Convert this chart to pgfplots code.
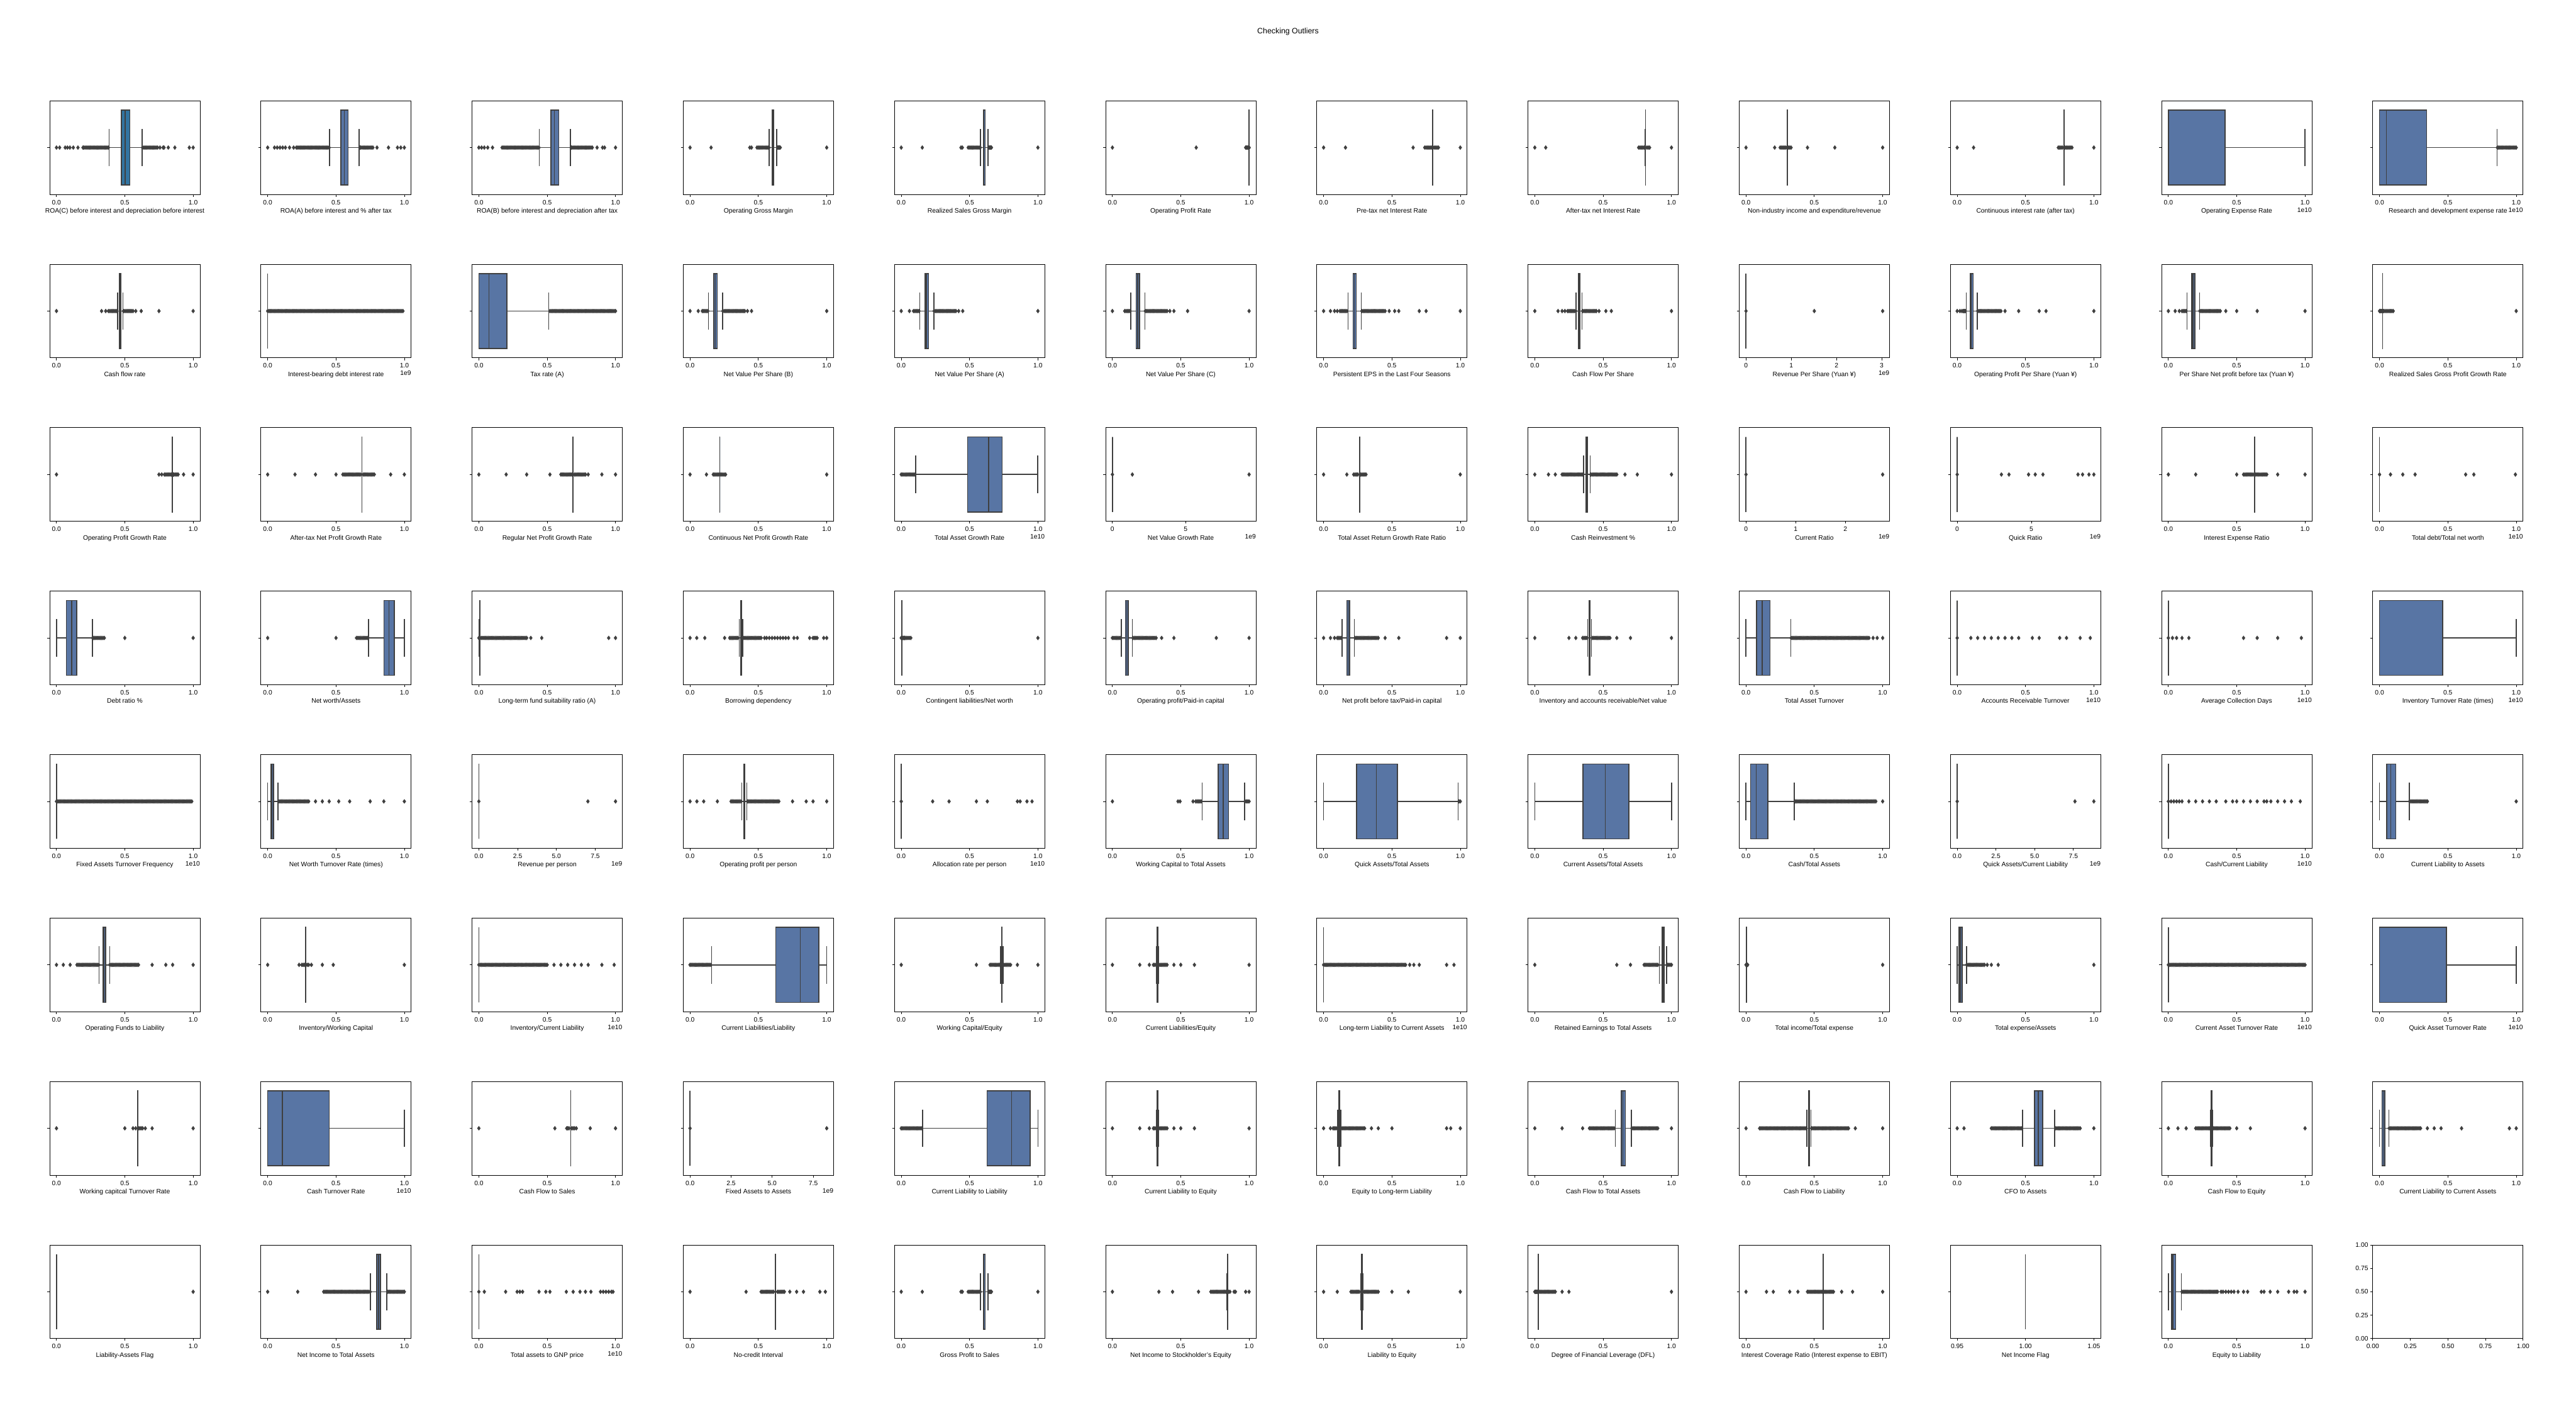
\documentclass[border=0pt]{standalone}
\usepackage{fontspec}
\setmainfont{Liberation Sans}
\usepackage{pgfplots}
\pgfplotsset{compat=1.18}
\usepgfplotslibrary{statistics}
\definecolor{bb}{HTML}{5875A4}
\definecolor{bt}{HTML}{3274A1}
\definecolor{dk}{HTML}{3F3F3F}
\pgfplotsset{
  panel/.style={
    scale only axis, width=231.1bp, height=144bp, anchor=north west,
    xmin=-0.05, xmax=1.05, ymin=-0.5, ymax=0.5,
    xtick={0,0.5,1}, xticklabels={0.0,0.5,1.0},
    ytick={0}, yticklabels={},
    scaled x ticks=false,
    tick align=outside, tick pos=left,
    major tick length=3.5pt,
    every tick/.append style={black, line width=0.8pt},
    axis line style={line width=0.8pt},
    tick label style={font=\fontsize{10}{12}\selectfont},
    xticklabel style={inner sep=0pt, yshift=-4.9pt},
    xlabel style={at={(axis description cs:0.5,0)}, anchor=north, inner sep=0pt, yshift=-21pt, font=\fontsize{10}{12}\selectfont},
    /pgf/number format/assume math mode=true,
    boxplot/draw direction=x,
    boxplot/box extend=0.8,
    boxplot/whisker extend=0.4,
    boxplot/every box/.style={draw=dk, fill=bb, line width=1.5pt},
    boxplot/every whisker/.style={draw=dk, line width=1.5pt},
    boxplot/every median/.style={draw=dk, line width=1.5pt},
  },
  off/.style={extra description/.code={\node[anchor=north east, inner sep=0pt, yshift=-20pt, font=\fontsize{10}{12}\selectfont] at (1,0) {#1};}},
  bx/.style n args={5}{boxplot prepared={draw position=0, lower whisker=#1, lower quartile=#2, median=#3, upper quartile=#4, upper whisker=#5}},
  bxst/.style={solid, draw=dk, line width=1.5pt, mark=none},
  outst/.style={only marks, mark=diamond*, mark size=3.2pt, mark options={draw=dk, fill=dk, line width=0.4pt, solid}},
}
\newcommand\bp[6]{%
\begin{axis}[panel, at={(76.32bp+#1*324.65bp,-154.8bp-#2*251.2bp)}, xlabel={#3}, #4]
\addplot[bxst, bx=#5] coordinates {};
\addplot[outst] coordinates {#6};
\end{axis}}
\begin{document}
\fontsize{10}{12}\selectfont
\begin{tikzpicture}
\path[use as bounding box] (0,0) rectangle (3960bp,-2160bp);
\node[anchor=base, font=\fontsize{12}{14}\selectfont] at (1980bp,-52.2bp) {Checking Outliers};
% ---------------- row 0
\bp{0}{0}{ROA(C) before interest and depreciation before interest}{boxplot/every box/.append style={fill=bt}}{{0.386}{0.476}{0.503}{0.536}{0.626}}{(0,0)(0.023,0)(0.064,0)(0.08,0)(0.098,0)(0.123,0)(0.157,0)(0.194,0)(0.2,0)(0.21,0)(0.22,0)(0.23,0)(0.24,0)(0.25,0)(0.26,0)(0.27,0)(0.28,0)(0.29,0)(0.3,0)(0.31,0)(0.32,0)(0.33,0)(0.34,0)(0.35,0)(0.36,0)(0.37,0)(0.38,0)(0.63,0)(0.64,0)(0.65,0)(0.66,0)(0.67,0)(0.68,0)(0.69,0)(0.7,0)(0.71,0)(0.72,0)(0.73,0)(0.74,0)(0.757,0)(0.78,0)(0.787,0)(0.818,0)(0.866,0)(0.972,0)(1,0)}
\bp{1}{0}{ROA(A) before interest and \% after tax}{}{{0.454}{0.535}{0.560}{0.589}{0.670}}{(0,0)(0.05,0)(0.07,0)(0.09,0)(0.11,0)(0.13,0)(0.16,0)(0.19,0)(0.21,0)(0.22,0)(0.23,0)(0.24,0)(0.25,0)(0.26,0)(0.27,0)(0.28,0)(0.29,0)(0.3,0)(0.31,0)(0.32,0)(0.33,0)(0.34,0)(0.35,0)(0.36,0)(0.37,0)(0.38,0)(0.39,0)(0.4,0)(0.41,0)(0.42,0)(0.43,0)(0.44,0)(0.45,0)(0.675,0)(0.68,0)(0.69,0)(0.7,0)(0.71,0)(0.72,0)(0.73,0)(0.74,0)(0.75,0)(0.76,0)(0.77,0)(0.8,0)(0.884,0)(0.95,0)(0.974,0)(1,0)}
\bp{2}{0}{ROA(B) before interest and depreciation after tax}{}{{0.442}{0.527}{0.552}{0.584}{0.670}}{(0,0)(0.02,0)(0.04,0)(0.065,0)(0.1,0)(0.17,0)(0.18,0)(0.19,0)(0.2,0)(0.21,0)(0.22,0)(0.23,0)(0.24,0)(0.25,0)(0.26,0)(0.27,0)(0.28,0)(0.29,0)(0.3,0)(0.31,0)(0.32,0)(0.33,0)(0.34,0)(0.35,0)(0.36,0)(0.37,0)(0.38,0)(0.39,0)(0.4,0)(0.41,0)(0.42,0)(0.43,0)(0.44,0)(0.675,0)(0.68,0)(0.69,0)(0.7,0)(0.71,0)(0.72,0)(0.73,0)(0.74,0)(0.75,0)(0.76,0)(0.77,0)(0.78,0)(0.79,0)(0.8,0)(0.81,0)(0.82,0)(0.83,0)(0.865,0)(0.905,0)(0.92,0)(1,0)}
\bp{3}{0}{Operating Gross Margin}{}{{0.579}{0.600}{0.606}{0.614}{0.635}}{(0,0)(0.154,0)(0.437,0)(0.45,0)(0.49,0)(0.5,0)(0.51,0)(0.52,0)(0.53,0)(0.54,0)(0.55,0)(0.56,0)(0.57,0)(0.578,0)(0.64,0)(0.645,0)(0.65,0)(0.655,0)(0.66,0)(1,0)}
\bp{4}{0}{Realized Sales Gross Margin}{}{{0.579}{0.600}{0.606}{0.614}{0.635}}{(0,0)(0.154,0)(0.437,0)(0.447,0)(0.49,0)(0.5,0)(0.51,0)(0.52,0)(0.53,0)(0.54,0)(0.55,0)(0.56,0)(0.57,0)(0.578,0)(0.64,0)(0.645,0)(0.65,0)(0.655,0)(0.66,0)(1,0)}
\bp{5}{0}{Operating Profit Rate}{}{{0.99878}{0.99897}{0.99902}{0.99910}{0.99928}}{(0,0)(0.613,0)(0.975,0)(0.98,0)(0.985,0)(0.99,0)(0.995,0)(0.998,0)(0.9995,0)(1,0)}
\bp{6}{0}{Pre-tax net Interest Rate}{}{{0.79721}{0.797386}{0.797464}{0.797579}{0.79787}}{(0,0)(0.16,0)(0.655,0)(0.74,0)(0.75,0)(0.76,0)(0.77,0)(0.78,0)(0.79,0)(0.8,0)(0.81,0)(0.82,0)(0.83,0)(0.84,0)(1,0)}
\bp{7}{0}{After-tax net Interest Rate}{}{{0.80914}{0.809312}{0.809375}{0.809469}{0.80971}}{(0,0)(0.08,0)(0.76,0)(0.77,0)(0.78,0)(0.79,0)(0.8,0)(0.82,0)(0.83,0)(0.84,0)(1,0)}
\bp{8}{0}{Non-industry income and expenditure/revenue}{}{{0.30338}{0.303466}{0.303525}{0.303585}{0.30368}}{(0,0)(0.21,0)(0.25,0)(0.26,0)(0.27,0)(0.28,0)(0.29,0)(0.3,0)(0.31,0)(0.32,0)(0.33,0)(0.45,0)(0.65,0)(1,0)}
\bp{9}{0}{Continuous interest rate (after tax)}{}{{0.78132}{0.781567}{0.781635}{0.781735}{0.78199}}{(0,0)(0.12,0)(0.74,0)(0.75,0)(0.76,0)(0.77,0)(0.79,0)(0.8,0)(0.81,0)(0.82,0)(0.83,0)(0.84,0)(1,0)}
\bp{10}{0}{Operating Expense Rate}{off=1e10}{{0}{0}{0}{0.4145}{0.999}}{}
\bp{11}{0}{Research and development expense rate}{off=1e10}{{0}{0}{0.0509}{0.345}{0.86}}{(0.862,0)(0.87,0)(0.88,0)(0.89,0)(0.9,0)(0.91,0)(0.92,0)(0.93,0)(0.94,0)(0.95,0)(0.96,0)(0.97,0)(0.98,0)(0.99,0)(1,0)}
% ---------------- row 1
\bp{0}{1}{Cash flow rate}{}{{0.447}{0.4615}{0.465}{0.4712}{0.4857}}{(0,0)(0.33,0)(0.36,0)(0.38,0)(0.39,0)(0.4,0)(0.41,0)(0.42,0)(0.43,0)(0.44,0)(0.49,0)(0.5,0)(0.51,0)(0.52,0)(0.53,0)(0.54,0)(0.55,0)(0.56,0)(0.58,0)(0.62,0)(0.75,0)(1,0)}
\bp{1}{1}{Interest-bearing debt interest rate}{off=1e9}{{0}{0}{0}{0}{0}}{(0,0)(0.01,0)(0.02,0)(0.03,0)(0.04,0)(0.05,0)(0.06,0)(0.07,0)(0.08,0)(0.09,0)(0.1,0)(0.11,0)(0.12,0)(0.13,0)(0.14,0)(0.15,0)(0.16,0)(0.17,0)(0.18,0)(0.19,0)(0.2,0)(0.21,0)(0.22,0)(0.23,0)(0.24,0)(0.25,0)(0.26,0)(0.27,0)(0.28,0)(0.29,0)(0.3,0)(0.31,0)(0.32,0)(0.33,0)(0.34,0)(0.35,0)(0.36,0)(0.37,0)(0.38,0)(0.39,0)(0.4,0)(0.41,0)(0.42,0)(0.43,0)(0.44,0)(0.45,0)(0.46,0)(0.47,0)(0.48,0)(0.49,0)(0.5,0)(0.51,0)(0.52,0)(0.53,0)(0.54,0)(0.55,0)(0.56,0)(0.57,0)(0.58,0)(0.59,0)(0.6,0)(0.61,0)(0.62,0)(0.63,0)(0.64,0)(0.65,0)(0.66,0)(0.67,0)(0.68,0)(0.69,0)(0.7,0)(0.71,0)(0.72,0)(0.73,0)(0.74,0)(0.75,0)(0.76,0)(0.77,0)(0.78,0)(0.79,0)(0.8,0)(0.81,0)(0.82,0)(0.83,0)(0.84,0)(0.85,0)(0.86,0)(0.87,0)(0.88,0)(0.89,0)(0.9,0)(0.91,0)(0.92,0)(0.93,0)(0.94,0)(0.95,0)(0.96,0)(0.97,0)(0.98,0)(0.99,0)}
\bp{2}{1}{Tax rate (A)}{}{{0}{0}{0.0734}{0.2059}{0.512}}{(0.52,0)(0.53,0)(0.54,0)(0.55,0)(0.56,0)(0.57,0)(0.58,0)(0.59,0)(0.6,0)(0.61,0)(0.62,0)(0.63,0)(0.64,0)(0.65,0)(0.66,0)(0.67,0)(0.68,0)(0.69,0)(0.7,0)(0.71,0)(0.72,0)(0.73,0)(0.74,0)(0.75,0)(0.76,0)(0.77,0)(0.78,0)(0.79,0)(0.8,0)(0.81,0)(0.82,0)(0.83,0)(0.84,0)(0.85,0)(0.86,0)(0.87,0)(0.88,0)(0.89,0)(0.9,0)(0.91,0)(0.92,0)(0.93,0)(0.94,0)(0.95,0)(0.96,0)(0.97,0)(0.98,0)(0.99,0)(1,0)}
\bp{3}{1}{Net Value Per Share (B)}{}{{0.1346}{0.1736}{0.1844}{0.1996}{0.2386}}{(0,0)(0.06,0)(0.09,0)(0.1,0)(0.11,0)(0.12,0)(0.13,0)(0.24,0)(0.25,0)(0.26,0)(0.27,0)(0.28,0)(0.29,0)(0.3,0)(0.31,0)(0.32,0)(0.33,0)(0.34,0)(0.35,0)(0.36,0)(0.37,0)(0.38,0)(0.39,0)(0.4,0)(0.42,0)(0.45,0)(1,0)}
\bp{4}{1}{Net Value Per Share (A)}{}{{0.1346}{0.1736}{0.1844}{0.1996}{0.2386}}{(0,0)(0.06,0)(0.09,0)(0.1,0)(0.11,0)(0.12,0)(0.13,0)(0.24,0)(0.25,0)(0.26,0)(0.27,0)(0.28,0)(0.29,0)(0.3,0)(0.31,0)(0.32,0)(0.33,0)(0.34,0)(0.35,0)(0.36,0)(0.37,0)(0.38,0)(0.39,0)(0.4,0)(0.42,0)(0.45,0)(1,0)}
\bp{5}{1}{Net Value Per Share (C)}{}{{0.1346}{0.1737}{0.1844}{0.1996}{0.2386}}{(0,0)(0.09,0)(0.1,0)(0.11,0)(0.12,0)(0.13,0)(0.24,0)(0.25,0)(0.26,0)(0.27,0)(0.28,0)(0.29,0)(0.3,0)(0.31,0)(0.32,0)(0.33,0)(0.34,0)(0.35,0)(0.36,0)(0.37,0)(0.38,0)(0.39,0)(0.4,0)(0.42,0)(0.45,0)(0.55,0)(1,0)}
\bp{6}{1}{Persistent EPS in the Last Four Seasons}{}{{0.1786}{0.2147}{0.2245}{0.2388}{0.2749}}{(0,0)(0.05,0)(0.08,0)(0.1,0)(0.12,0)(0.13,0)(0.14,0)(0.15,0)(0.16,0)(0.17,0)(0.28,0)(0.29,0)(0.3,0)(0.31,0)(0.32,0)(0.33,0)(0.34,0)(0.35,0)(0.36,0)(0.37,0)(0.38,0)(0.39,0)(0.4,0)(0.41,0)(0.42,0)(0.43,0)(0.44,0)(0.45,0)(0.48,0)(0.52,0)(0.55,0)(0.7,0)(0.75,0)(1,0)}
\bp{7}{1}{Cash Flow Per Share}{}{{0.3014}{0.3177}{0.3225}{0.3286}{0.3449}}{(0,0)(0.17,0)(0.2,0)(0.22,0)(0.24,0)(0.25,0)(0.26,0)(0.27,0)(0.28,0)(0.29,0)(0.3,0)(0.35,0)(0.36,0)(0.37,0)(0.38,0)(0.39,0)(0.4,0)(0.41,0)(0.42,0)(0.43,0)(0.44,0)(0.45,0)(0.47,0)(0.52,0)(0.56,0)(1,0)}
\bp{8}{1}{Revenue Per Share (Yuan ¥)}{off=1e9, xmin=-0.151, xmax=3.171, xtick={0,1,2,3}, xticklabels={0,1,2,3}}{{0}{0}{0}{0}{0}}{(0,0)(1.51,0)(3.02,0)}
\bp{9}{1}{Operating Profit Per Share (Yuan ¥)}{}{{0.066}{0.0961}{0.1042}{0.1162}{0.146}}{(0,0)(0.02,0)(0.035,0)(0.045,0)(0.05,0)(0.055,0)(0.06,0)(0.15,0)(0.16,0)(0.17,0)(0.18,0)(0.19,0)(0.2,0)(0.21,0)(0.22,0)(0.23,0)(0.24,0)(0.25,0)(0.26,0)(0.27,0)(0.28,0)(0.29,0)(0.3,0)(0.31,0)(0.32,0)(0.35,0)(0.45,0)(0.6,0)(0.65,0)(1,0)}
\bp{10}{1}{Per Share Net profit before tax (Yuan ¥)}{}{{0.1357}{0.1704}{0.1797}{0.1935}{0.2282}}{(0,0)(0.05,0)(0.08,0)(0.1,0)(0.11,0)(0.12,0)(0.13,0)(0.23,0)(0.24,0)(0.25,0)(0.26,0)(0.27,0)(0.28,0)(0.29,0)(0.3,0)(0.31,0)(0.32,0)(0.33,0)(0.34,0)(0.35,0)(0.36,0)(0.37,0)(0.38,0)(0.42,0)(0.5,0)(0.65,0)(1,0)}
\bp{11}{1}{Realized Sales Gross Profit Growth Rate}{}{{0.02199}{0.022064}{0.022102}{0.022153}{0.02223}}{(0,0)(0.005,0)(0.01,0)(0.015,0)(0.02,0)(0.025,0)(0.03,0)(0.04,0)(0.05,0)(0.06,0)(0.07,0)(0.08,0)(0.09,0)(0.1,0)(1,0)}
% ---------------- row 2
\bp{0}{2}{Operating Profit Growth Rate}{}{{0.84779}{0.84798}{0.84804}{0.84812}{0.84832}}{(0,0)(0.75,0)(0.77,0)(0.79,0)(0.8,0)(0.81,0)(0.82,0)(0.83,0)(0.84,0)(0.855,0)(0.86,0)(0.87,0)(0.88,0)(0.89,0)(0.93,0)(1,0)}
\bp{1}{2}{After-tax Net Profit Growth Rate}{}{{0.68871}{0.68927}{0.68944}{0.68965}{0.69021}}{(0,0)(0.2,0)(0.35,0)(0.5,0)(0.55,0)(0.56,0)(0.57,0)(0.58,0)(0.59,0)(0.6,0)(0.61,0)(0.62,0)(0.63,0)(0.64,0)(0.65,0)(0.66,0)(0.67,0)(0.68,0)(0.7,0)(0.71,0)(0.72,0)(0.73,0)(0.74,0)(0.75,0)(0.76,0)(0.77,0)(0.78,0)(0.9,0)(1,0)}
\bp{2}{2}{Regular Net Profit Growth Rate}{}{{0.68871}{0.68927}{0.68944}{0.68965}{0.69021}}{(0,0)(0.2,0)(0.35,0)(0.52,0)(0.6,0)(0.61,0)(0.62,0)(0.63,0)(0.64,0)(0.65,0)(0.66,0)(0.67,0)(0.68,0)(0.7,0)(0.71,0)(0.72,0)(0.73,0)(0.74,0)(0.75,0)(0.76,0)(0.77,0)(0.78,0)(0.8,0)(0.9,0)(1,0)}
\bp{3}{2}{Continuous Net Profit Growth Rate}{}{{0.21754}{0.21758}{0.21760}{0.21762}{0.21766}}{(0,0)(0.12,0)(0.17,0)(0.18,0)(0.19,0)(0.2,0)(0.21,0)(0.22,0)(0.23,0)(0.24,0)(0.25,0)(0.26,0)(1,0)}
\bp{4}{2}{Total Asset Growth Rate}{off=1e10}{{0.106}{0.486}{0.64}{0.739}{0.999}}{(0,0)(0.01,0)(0.02,0)(0.03,0)(0.04,0)(0.05,0)(0.06,0)(0.07,0)(0.08,0)(0.09,0)(0.1,0)}
\bp{5}{2}{Net Value Growth Rate}{off=1e9, xmin=-0.467, xmax=9.797, xtick={0,5}, xticklabels={0,5}}{{0}{0}{0}{0}{0}}{(0,0)(1.36,0)(9.33,0)}
\bp{6}{2}{Total Asset Return Growth Rate Ratio}{}{{0.26323}{0.263759}{0.26405}{0.264388}{0.26533}}{(0,0)(0.17,0)(0.22,0)(0.23,0)(0.24,0)(0.25,0)(0.27,0)(0.28,0)(0.29,0)(0.3,0)(0.31,0)(1,0)}
\bp{7}{2}{Cash Reinvestment \%}{}{{0.3567}{0.3747}{0.3804}{0.3867}{0.4047}}{(0,0)(0.1,0)(0.15,0)(0.2,0)(0.21,0)(0.22,0)(0.23,0)(0.24,0)(0.25,0)(0.26,0)(0.27,0)(0.28,0)(0.29,0)(0.3,0)(0.31,0)(0.32,0)(0.33,0)(0.34,0)(0.35,0)(0.41,0)(0.42,0)(0.43,0)(0.44,0)(0.45,0)(0.46,0)(0.47,0)(0.48,0)(0.49,0)(0.5,0)(0.51,0)(0.52,0)(0.53,0)(0.54,0)(0.55,0)(0.56,0)(0.57,0)(0.58,0)(0.59,0)(0.6,0)(0.66,0)(0.75,0)(1,0)}
\bp{8}{2}{Current Ratio}{off=1e9, xmin=-0.1375, xmax=2.8875, xtick={0,1,2}, xticklabels={0,1,2}}{{0}{0}{0}{0}{0}}{(0,0)(2.75,0)}
\bp{9}{2}{Quick Ratio}{off=1e9, xmin=-0.4605, xmax=9.6705, xtick={0,5}, xticklabels={0,5}}{{0}{0}{0}{0}{0}}{(0,0)(2.98,0)(3.49,0)(4.81,0)(5.26,0)(5.78,0)(8.14,0)(8.45,0)(8.88,0)(9.21,0)}
\bp{10}{2}{Interest Expense Ratio}{}{{0.62984}{0.630612}{0.630698}{0.631125}{0.63189}}{(0,0)(0.2,0)(0.5,0)(0.55,0)(0.56,0)(0.57,0)(0.58,0)(0.59,0)(0.6,0)(0.61,0)(0.62,0)(0.64,0)(0.65,0)(0.66,0)(0.67,0)(0.68,0)(0.69,0)(0.7,0)(0.71,0)(0.72,0)(0.8,0)(1,0)}
\bp{11}{2}{Total debt/Total net worth}{off=1e10}{{0}{0}{0}{0}{0}}{(0,0)(0.08,0)(0.17,0)(0.26,0)(0.63,0)(0.69,0)(0.994,0)}
% ---------------- row 3
\bp{0}{3}{Debt ratio \%}{}{{0}{0.0729}{0.1114}{0.1488}{0.2627}}{(0.265,0)(0.27,0)(0.28,0)(0.29,0)(0.3,0)(0.31,0)(0.32,0)(0.33,0)(0.34,0)(0.35,0)(0.5,0)(1,0)}
\bp{1}{3}{Net worth/Assets}{}{{0.7373}{0.8512}{0.8886}{0.9271}{1}}{(0,0)(0.5,0)(0.65,0)(0.66,0)(0.67,0)(0.68,0)(0.69,0)(0.7,0)(0.71,0)(0.72,0)(0.73,0)}
\bp{2}{3}{Long-term fund suitability ratio (A)}{}{{0.0034}{0.00524}{0.00567}{0.00647}{0.0083}}{(0,0)(0.01,0)(0.02,0)(0.03,0)(0.04,0)(0.05,0)(0.06,0)(0.07,0)(0.08,0)(0.09,0)(0.1,0)(0.11,0)(0.12,0)(0.13,0)(0.14,0)(0.15,0)(0.16,0)(0.17,0)(0.18,0)(0.19,0)(0.2,0)(0.21,0)(0.22,0)(0.23,0)(0.24,0)(0.25,0)(0.26,0)(0.27,0)(0.28,0)(0.29,0)(0.3,0)(0.31,0)(0.32,0)(0.33,0)(0.34,0)(0.35,0)(0.38,0)(0.46,0)(0.95,0)(1,0)}
\bp{3}{3}{Borrowing dependency}{}{{0.361}{0.3702}{0.3726}{0.3763}{0.3855}}{(0,0)(0.049,0)(0.108,0)(0.253,0)(0.29,0)(0.3,0)(0.31,0)(0.32,0)(0.33,0)(0.34,0)(0.35,0)(0.39,0)(0.4,0)(0.41,0)(0.42,0)(0.43,0)(0.44,0)(0.45,0)(0.46,0)(0.47,0)(0.48,0)(0.49,0)(0.5,0)(0.51,0)(0.52,0)(0.545,0)(0.56,0)(0.58,0)(0.6,0)(0.62,0)(0.64,0)(0.66,0)(0.68,0)(0.7,0)(0.72,0)(0.76,0)(0.785,0)(0.875,0)(0.9,0)(0.91,0)(0.92,0)(0.93,0)(0.978,0)(1,0)}
\bp{4}{3}{Contingent liabilities/Net worth}{}{{0.00477}{0.005366}{0.005366}{0.005764}{0.00636}}{(0,0)(0.007,0)(0.01,0)(0.015,0)(0.02,0)(0.025,0)(0.03,0)(0.04,0)(0.05,0)(0.06,0)(0.07,0)(1,0)}
\bp{5}{3}{Operating profit/Paid-in capital}{}{{0.0664}{0.0961}{0.1041}{0.1159}{0.1457}}{(0,0)(0.01,0)(0.02,0)(0.03,0)(0.04,0)(0.05,0)(0.06,0)(0.15,0)(0.16,0)(0.17,0)(0.18,0)(0.19,0)(0.2,0)(0.21,0)(0.22,0)(0.23,0)(0.24,0)(0.25,0)(0.26,0)(0.27,0)(0.28,0)(0.29,0)(0.3,0)(0.31,0)(0.32,0)(0.36,0)(0.45,0)(0.76,0)(1,0)}
\bp{6}{3}{Net profit before tax/Paid-in capital}{}{{0.136}{0.1694}{0.1785}{0.1916}{0.2249}}{(0,0)(0.05,0)(0.08,0)(0.1,0)(0.11,0)(0.12,0)(0.13,0)(0.23,0)(0.24,0)(0.25,0)(0.26,0)(0.27,0)(0.28,0)(0.29,0)(0.3,0)(0.31,0)(0.32,0)(0.33,0)(0.34,0)(0.35,0)(0.36,0)(0.37,0)(0.38,0)(0.39,0)(0.4,0)(0.45,0)(0.55,0)(0.9,0)(1,0)}
\bp{7}{3}{Inventory and accounts receivable/Net value}{}{{0.3867}{0.3974}{0.4001}{0.4046}{0.4152}}{(0,0)(0.25,0)(0.3,0)(0.35,0)(0.36,0)(0.37,0)(0.38,0)(0.42,0)(0.43,0)(0.44,0)(0.45,0)(0.46,0)(0.47,0)(0.48,0)(0.49,0)(0.5,0)(0.51,0)(0.52,0)(0.53,0)(0.54,0)(0.55,0)(0.6,0)(0.7,0)(1,0)}
\bp{8}{3}{Total Asset Turnover}{}{{0}{0.0765}{0.1184}{0.1769}{0.327}}{(0.33,0)(0.34,0)(0.35,0)(0.36,0)(0.37,0)(0.38,0)(0.39,0)(0.4,0)(0.41,0)(0.42,0)(0.43,0)(0.44,0)(0.45,0)(0.46,0)(0.47,0)(0.48,0)(0.49,0)(0.5,0)(0.51,0)(0.52,0)(0.53,0)(0.54,0)(0.55,0)(0.56,0)(0.57,0)(0.58,0)(0.59,0)(0.6,0)(0.61,0)(0.62,0)(0.63,0)(0.64,0)(0.65,0)(0.66,0)(0.67,0)(0.68,0)(0.69,0)(0.7,0)(0.71,0)(0.72,0)(0.73,0)(0.74,0)(0.75,0)(0.76,0)(0.77,0)(0.78,0)(0.79,0)(0.8,0)(0.81,0)(0.82,0)(0.83,0)(0.84,0)(0.85,0)(0.86,0)(0.87,0)(0.88,0)(0.89,0)(0.9,0)(0.93,0)(0.96,0)(1,0)}
\bp{9}{3}{Accounts Receivable Turnover}{off=1e10}{{0}{0}{0}{0}{0}}{(0,0)(0.1,0)(0.15,0)(0.2,0)(0.25,0)(0.3,0)(0.35,0)(0.4,0)(0.45,0)(0.55,0)(0.6,0)(0.75,0)(0.8,0)(0.9,0)(0.974,0)}
\bp{10}{3}{Average Collection Days}{off=1e10}{{0}{0}{0}{0}{0}}{(0,0)(0.03,0)(0.06,0)(0.1,0)(0.15,0)(0.55,0)(0.65,0)(0.8,0)(0.973,0)}
\bp{11}{3}{Inventory Turnover Rate (times)}{off=1e10}{{0}{0}{0}{0.462}{0.999}}{}
% ---------------- row 4
\bp{0}{4}{Fixed Assets Turnover Frequency}{off=1e10}{{0}{0}{0}{0}{0}}{(0,0)(0.01,0)(0.02,0)(0.03,0)(0.04,0)(0.05,0)(0.06,0)(0.07,0)(0.08,0)(0.09,0)(0.1,0)(0.11,0)(0.12,0)(0.13,0)(0.14,0)(0.15,0)(0.16,0)(0.17,0)(0.18,0)(0.19,0)(0.2,0)(0.21,0)(0.22,0)(0.23,0)(0.24,0)(0.25,0)(0.26,0)(0.27,0)(0.28,0)(0.29,0)(0.3,0)(0.31,0)(0.32,0)(0.33,0)(0.34,0)(0.35,0)(0.36,0)(0.37,0)(0.38,0)(0.39,0)(0.4,0)(0.41,0)(0.42,0)(0.43,0)(0.44,0)(0.45,0)(0.46,0)(0.47,0)(0.48,0)(0.49,0)(0.5,0)(0.51,0)(0.52,0)(0.53,0)(0.54,0)(0.55,0)(0.56,0)(0.57,0)(0.58,0)(0.59,0)(0.6,0)(0.61,0)(0.62,0)(0.63,0)(0.64,0)(0.65,0)(0.66,0)(0.67,0)(0.68,0)(0.69,0)(0.7,0)(0.71,0)(0.72,0)(0.73,0)(0.74,0)(0.75,0)(0.76,0)(0.77,0)(0.78,0)(0.79,0)(0.8,0)(0.81,0)(0.82,0)(0.83,0)(0.84,0)(0.85,0)(0.86,0)(0.87,0)(0.88,0)(0.89,0)(0.9,0)(0.91,0)(0.92,0)(0.93,0)(0.94,0)(0.95,0)(0.96,0)(0.97,0)(0.98,0)(0.99,0)}
\bp{1}{4}{Net Worth Turnover Rate (times)}{}{{0}{0.0218}{0.0295}{0.0429}{0.0746}}{(0.08,0)(0.09,0)(0.1,0)(0.11,0)(0.12,0)(0.13,0)(0.14,0)(0.15,0)(0.16,0)(0.17,0)(0.18,0)(0.19,0)(0.2,0)(0.21,0)(0.22,0)(0.23,0)(0.24,0)(0.25,0)(0.26,0)(0.27,0)(0.28,0)(0.29,0)(0.3,0)(0.35,0)(0.4,0)(0.45,0)(0.52,0)(0.6,0)(0.75,0)(0.85,0)(1,0)}
\bp{2}{4}{Revenue per person}{off=1e9, xmin=-0.4405, xmax=9.2505, xtick={0,2.5,5,7.5}, xticklabels={0.0,2.5,5.0,7.5}}{{0}{0}{0}{0}{0}}{(0,0)(7.03,0)(8.81,0)}
\bp{3}{4}{Operating profit per person}{}{{0.3783}{0.3924}{0.3959}{0.4019}{0.416}}{(0,0)(0.05,0)(0.1,0)(0.2,0)(0.3,0)(0.31,0)(0.32,0)(0.33,0)(0.34,0)(0.35,0)(0.36,0)(0.37,0)(0.42,0)(0.43,0)(0.44,0)(0.45,0)(0.46,0)(0.47,0)(0.48,0)(0.49,0)(0.5,0)(0.51,0)(0.52,0)(0.53,0)(0.54,0)(0.55,0)(0.56,0)(0.57,0)(0.58,0)(0.59,0)(0.6,0)(0.61,0)(0.62,0)(0.63,0)(0.64,0)(0.65,0)(0.75,0)(0.85,0)(0.9,0)(1,0)}
\bp{4}{4}{Allocation rate per person}{off=1e10}{{0}{0}{0}{0}{0}}{(0,0)(0.23,0)(0.35,0)(0.55,0)(0.63,0)(0.85,0)(0.87,0)(0.92,0)(0.957,0)}
\bp{5}{4}{Working Capital to Total Assets}{}{{0.657}{0.7743}{0.8103}{0.8504}{0.966}}{(0,0)(0.48,0)(0.495,0)(0.59,0)(0.61,0)(0.62,0)(0.63,0)(0.64,0)(0.65,0)(0.97,0)(0.98,0)(0.99,0)(1,0)}
\bp{6}{4}{Quick Assets/Total Assets}{}{{0}{0.242}{0.3865}{0.5406}{0.985}}{(0.99,0)(1,0)}
\bp{7}{4}{Current Assets/Total Assets}{}{{0}{0.3528}{0.5148}{0.6891}{1}}{}
\bp{8}{4}{Cash/Total Assets}{}{{0}{0.0335}{0.0749}{0.1611}{0.3525}}{(0.36,0)(0.37,0)(0.38,0)(0.39,0)(0.4,0)(0.41,0)(0.42,0)(0.43,0)(0.44,0)(0.45,0)(0.46,0)(0.47,0)(0.48,0)(0.49,0)(0.5,0)(0.51,0)(0.52,0)(0.53,0)(0.54,0)(0.55,0)(0.56,0)(0.57,0)(0.58,0)(0.59,0)(0.6,0)(0.61,0)(0.62,0)(0.63,0)(0.64,0)(0.65,0)(0.66,0)(0.67,0)(0.68,0)(0.69,0)(0.7,0)(0.71,0)(0.72,0)(0.73,0)(0.74,0)(0.75,0)(0.76,0)(0.77,0)(0.78,0)(0.79,0)(0.8,0)(0.81,0)(0.82,0)(0.83,0)(0.84,0)(0.85,0)(0.86,0)(0.87,0)(0.88,0)(0.89,0)(0.9,0)(0.91,0)(0.92,0)(0.93,0)(0.94,0)(0.95,0)(1,0)}
\bp{9}{4}{Quick Assets/Current Liability}{off=1e9, xmin=-0.441, xmax=9.261, xtick={0,2.5,5,7.5}, xticklabels={0.0,2.5,5.0,7.5}}{{0}{0}{0}{0}{0}}{(0,0)(7.6,0)(8.82,0)}
\bp{10}{4}{Cash/Current Liability}{off=1e10}{{0}{0}{0}{0}{0}}{(0,0)(0.02,0)(0.04,0)(0.06,0)(0.08,0)(0.1,0)(0.15,0)(0.2,0)(0.25,0)(0.3,0)(0.35,0)(0.42,0)(0.47,0)(0.5,0)(0.55,0)(0.6,0)(0.65,0)(0.7,0)(0.72,0)(0.75,0)(0.8,0)(0.85,0)(0.9,0)(0.965,0)}
\bp{11}{4}{Current Liability to Assets}{}{{0}{0.0533}{0.0827}{0.1195}{0.2188}}{(0.22,0)(0.23,0)(0.24,0)(0.25,0)(0.26,0)(0.27,0)(0.28,0)(0.29,0)(0.3,0)(0.31,0)(0.32,0)(0.33,0)(0.34,0)(0.35,0)(1,0)}
% ---------------- row 5
\bp{0}{5}{Operating Funds to Liability}{}{{0.3112}{0.341}{0.3486}{0.3609}{0.3907}}{(0,0)(0.05,0)(0.1,0)(0.15,0)(0.16,0)(0.17,0)(0.18,0)(0.19,0)(0.2,0)(0.21,0)(0.22,0)(0.23,0)(0.24,0)(0.25,0)(0.26,0)(0.27,0)(0.28,0)(0.29,0)(0.3,0)(0.31,0)(0.39,0)(0.4,0)(0.41,0)(0.42,0)(0.43,0)(0.44,0)(0.45,0)(0.46,0)(0.47,0)(0.48,0)(0.49,0)(0.5,0)(0.51,0)(0.52,0)(0.53,0)(0.54,0)(0.55,0)(0.56,0)(0.57,0)(0.58,0)(0.59,0)(0.6,0)(0.7,0)(0.8,0)(0.85,0)(1,0)}
\bp{1}{5}{Inventory/Working Capital}{}{{0.27665}{0.27703}{0.27718}{0.27743}{0.27781}}{(0,0)(0.23,0)(0.25,0)(0.26,0)(0.27,0)(0.28,0)(0.29,0)(0.3,0)(0.32,0)(0.4,0)(0.48,0)(1,0)}
\bp{2}{5}{Inventory/Current Liability}{off=1e10}{{0}{0}{0}{0}{0}}{(0,0)(0.01,0)(0.02,0)(0.03,0)(0.04,0)(0.05,0)(0.06,0)(0.07,0)(0.08,0)(0.09,0)(0.1,0)(0.11,0)(0.12,0)(0.13,0)(0.14,0)(0.15,0)(0.16,0)(0.17,0)(0.18,0)(0.19,0)(0.2,0)(0.21,0)(0.22,0)(0.23,0)(0.24,0)(0.25,0)(0.26,0)(0.27,0)(0.28,0)(0.29,0)(0.3,0)(0.31,0)(0.32,0)(0.33,0)(0.34,0)(0.35,0)(0.36,0)(0.37,0)(0.38,0)(0.39,0)(0.4,0)(0.41,0)(0.42,0)(0.43,0)(0.44,0)(0.45,0)(0.46,0)(0.47,0)(0.48,0)(0.49,0)(0.5,0)(0.55,0)(0.6,0)(0.65,0)(0.7,0)(0.75,0)(0.8,0)(0.9,0)(0.99,0)}
\bp{3}{5}{Current Liabilities/Liability}{}{{0.157}{0.628}{0.8069}{0.942}{1}}{(0,0)(0.01,0)(0.02,0)(0.03,0)(0.04,0)(0.05,0)(0.06,0)(0.07,0)(0.08,0)(0.09,0)(0.1,0)(0.11,0)(0.12,0)(0.13,0)(0.14,0)(0.15,0)}
\bp{4}{5}{Working Capital/Equity}{}{{0.726}{0.7336}{0.736}{0.7386}{0.746}}{(0,0)(0.55,0)(0.65,0)(0.66,0)(0.67,0)(0.68,0)(0.69,0)(0.7,0)(0.71,0)(0.72,0)(0.75,0)(0.76,0)(0.77,0)(0.78,0)(0.79,0)(0.8,0)(0.85,0)(1,0)}
\bp{5}{5}{Current Liabilities/Equity}{}{{0.3218}{0.3281}{0.3297}{0.3323}{0.3386}}{(0,0)(0.2,0)(0.27,0)(0.3,0)(0.31,0)(0.32,0)(0.34,0)(0.35,0)(0.36,0)(0.37,0)(0.38,0)(0.39,0)(0.4,0)(0.45,0)(0.5,0)(0.6,0)(1,0)}
\bp{6}{5}{Long-term Liability to Current Assets}{off=1e10}{{0}{0}{0}{0}{0}}{(0,0)(0.01,0)(0.02,0)(0.03,0)(0.04,0)(0.05,0)(0.06,0)(0.07,0)(0.08,0)(0.09,0)(0.1,0)(0.11,0)(0.12,0)(0.13,0)(0.14,0)(0.15,0)(0.16,0)(0.17,0)(0.18,0)(0.19,0)(0.2,0)(0.21,0)(0.22,0)(0.23,0)(0.24,0)(0.25,0)(0.26,0)(0.27,0)(0.28,0)(0.29,0)(0.3,0)(0.31,0)(0.32,0)(0.33,0)(0.34,0)(0.35,0)(0.36,0)(0.37,0)(0.38,0)(0.39,0)(0.4,0)(0.41,0)(0.42,0)(0.43,0)(0.44,0)(0.45,0)(0.46,0)(0.47,0)(0.48,0)(0.49,0)(0.5,0)(0.51,0)(0.52,0)(0.53,0)(0.54,0)(0.55,0)(0.56,0)(0.57,0)(0.58,0)(0.59,0)(0.6,0)(0.63,0)(0.66,0)(0.7,0)(0.9,0)(0.954,0)}
\bp{7}{5}{Retained Earnings to Total Assets}{}{{0.9105}{0.9311}{0.9377}{0.9448}{0.9654}}{(0,0)(0.6,0)(0.7,0)(0.8,0)(0.81,0)(0.82,0)(0.83,0)(0.84,0)(0.85,0)(0.86,0)(0.87,0)(0.88,0)(0.89,0)(0.9,0)(0.97,0)(0.98,0)(0.99,0)(1,0)}
\bp{8}{5}{Total income/Total expense}{}{{0.002}{0.00224}{0.00234}{0.00249}{0.0029}}{(0,0)(0.003,0)(0.004,0)(0.005,0)(0.006,0)(0.008,0)(0.01,0)(0.012,0)(1,0)}
\bp{9}{5}{Total expense/Assets}{}{{0}{0.0146}{0.0227}{0.0359}{0.0679}}{(0.07,0)(0.08,0)(0.09,0)(0.1,0)(0.11,0)(0.12,0)(0.13,0)(0.14,0)(0.15,0)(0.16,0)(0.17,0)(0.18,0)(0.19,0)(0.2,0)(0.22,0)(0.25,0)(0.3,0)(1,0)}
\bp{10}{5}{Current Asset Turnover Rate}{off=1e10}{{0}{0}{0}{0}{0}}{(0,0)(0.01,0)(0.02,0)(0.03,0)(0.04,0)(0.05,0)(0.06,0)(0.07,0)(0.08,0)(0.09,0)(0.1,0)(0.11,0)(0.12,0)(0.13,0)(0.14,0)(0.15,0)(0.16,0)(0.17,0)(0.18,0)(0.19,0)(0.2,0)(0.21,0)(0.22,0)(0.23,0)(0.24,0)(0.25,0)(0.26,0)(0.27,0)(0.28,0)(0.29,0)(0.3,0)(0.31,0)(0.32,0)(0.33,0)(0.34,0)(0.35,0)(0.36,0)(0.37,0)(0.38,0)(0.39,0)(0.4,0)(0.41,0)(0.42,0)(0.43,0)(0.44,0)(0.45,0)(0.46,0)(0.47,0)(0.48,0)(0.49,0)(0.5,0)(0.51,0)(0.52,0)(0.53,0)(0.54,0)(0.55,0)(0.56,0)(0.57,0)(0.58,0)(0.59,0)(0.6,0)(0.61,0)(0.62,0)(0.63,0)(0.64,0)(0.65,0)(0.66,0)(0.67,0)(0.68,0)(0.69,0)(0.7,0)(0.71,0)(0.72,0)(0.73,0)(0.74,0)(0.75,0)(0.76,0)(0.77,0)(0.78,0)(0.79,0)(0.8,0)(0.81,0)(0.82,0)(0.83,0)(0.84,0)(0.85,0)(0.86,0)(0.87,0)(0.88,0)(0.89,0)(0.9,0)(0.91,0)(0.92,0)(0.93,0)(0.94,0)(0.95,0)(0.96,0)(0.97,0)(0.98,0)(0.99,0)(1,0)}
\bp{11}{5}{Quick Asset Turnover Rate}{off=1e10}{{0}{0}{0}{0.49}{1}}{}
% ---------------- row 6
\bp{0}{6}{Working capitcal Turnover Rate}{}{{0.59385}{0.59393}{0.59396}{0.594}{0.59411}}{(0,0)(0.5,0)(0.56,0)(0.58,0)(0.6,0)(0.61,0)(0.62,0)(0.63,0)(0.65,0)(0.7,0)(1,0)}
\bp{1}{6}{Cash Turnover Rate}{off=1e10}{{0}{0}{0.108}{0.451}{1}}{}
\bp{2}{6}{Cash Flow to Sales}{}{{0.67154}{0.671565}{0.671574}{0.671587}{0.67162}}{(0,0)(0.556,0)(0.643,0)(0.65,0)(0.66,0)(0.68,0)(0.69,0)(0.7,0)(0.713,0)(0.815,0)(1,0)}
\bp{3}{6}{Fixed Assets to Assets}{off=1e9, xmin=-0.416, xmax=8.736, xtick={0,2.5,5,7.5}, xticklabels={0.0,2.5,5.0,7.5}}{{0}{0}{0}{0}{0}}{(0,0)(8.32,0)}
\bp{4}{6}{Current Liability to Liability}{}{{0.157}{0.628}{0.8069}{0.942}{1}}{(0,0)(0.01,0)(0.02,0)(0.03,0)(0.04,0)(0.05,0)(0.06,0)(0.07,0)(0.08,0)(0.09,0)(0.1,0)(0.11,0)(0.12,0)(0.13,0)(0.14,0)(0.15,0)}
\bp{5}{6}{Current Liability to Equity}{}{{0.3218}{0.3281}{0.3297}{0.3323}{0.3386}}{(0,0)(0.2,0)(0.27,0)(0.3,0)(0.31,0)(0.32,0)(0.34,0)(0.35,0)(0.36,0)(0.37,0)(0.38,0)(0.39,0)(0.4,0)(0.45,0)(0.5,0)(0.6,0)(1,0)}
\bp{6}{6}{Equity to Long-term Liability}{}{{0.1017}{0.1109}{0.1123}{0.1171}{0.1264}}{(0,0)(0.05,0)(0.07,0)(0.08,0)(0.09,0)(0.1,0)(0.13,0)(0.14,0)(0.15,0)(0.16,0)(0.17,0)(0.18,0)(0.19,0)(0.2,0)(0.21,0)(0.22,0)(0.23,0)(0.24,0)(0.25,0)(0.26,0)(0.27,0)(0.28,0)(0.29,0)(0.3,0)(0.35,0)(0.4,0)(0.5,0)(0.9,0)(0.93,0)(1,0)}
\bp{7}{6}{Cash Flow to Total Assets}{}{{0.5886}{0.6333}{0.6454}{0.6631}{0.7077}}{(0,0)(0.2,0)(0.35,0)(0.4,0)(0.41,0)(0.42,0)(0.43,0)(0.44,0)(0.45,0)(0.46,0)(0.47,0)(0.48,0)(0.49,0)(0.5,0)(0.51,0)(0.52,0)(0.53,0)(0.54,0)(0.55,0)(0.56,0)(0.57,0)(0.58,0)(0.71,0)(0.72,0)(0.73,0)(0.74,0)(0.75,0)(0.76,0)(0.77,0)(0.78,0)(0.79,0)(0.8,0)(0.81,0)(0.82,0)(0.83,0)(0.84,0)(0.85,0)(0.86,0)(0.87,0)(0.88,0)(0.89,0)(0.9,0)(1,0)}
\bp{8}{6}{Cash Flow to Liability}{}{{0.4464}{0.4571}{0.4598}{0.4642}{0.4749}}{(0,0)(0.1,0)(0.11,0)(0.12,0)(0.13,0)(0.14,0)(0.15,0)(0.16,0)(0.17,0)(0.18,0)(0.19,0)(0.2,0)(0.21,0)(0.22,0)(0.23,0)(0.24,0)(0.25,0)(0.26,0)(0.27,0)(0.28,0)(0.29,0)(0.3,0)(0.31,0)(0.32,0)(0.33,0)(0.34,0)(0.35,0)(0.36,0)(0.37,0)(0.38,0)(0.39,0)(0.4,0)(0.41,0)(0.42,0)(0.43,0)(0.44,0)(0.48,0)(0.49,0)(0.5,0)(0.51,0)(0.52,0)(0.53,0)(0.54,0)(0.55,0)(0.56,0)(0.57,0)(0.58,0)(0.59,0)(0.6,0)(0.61,0)(0.62,0)(0.63,0)(0.64,0)(0.65,0)(0.66,0)(0.67,0)(0.68,0)(0.69,0)(0.7,0)(0.71,0)(0.72,0)(0.73,0)(0.74,0)(0.75,0)(0.8,0)(1,0)}
\bp{9}{6}{CFO to Assets}{}{{0.4778}{0.566}{0.5933}{0.6248}{0.713}}{(0,0)(0.05,0)(0.25,0)(0.26,0)(0.27,0)(0.28,0)(0.29,0)(0.3,0)(0.31,0)(0.32,0)(0.33,0)(0.34,0)(0.35,0)(0.36,0)(0.37,0)(0.38,0)(0.39,0)(0.4,0)(0.41,0)(0.42,0)(0.43,0)(0.44,0)(0.45,0)(0.46,0)(0.47,0)(0.72,0)(0.73,0)(0.74,0)(0.75,0)(0.76,0)(0.77,0)(0.78,0)(0.79,0)(0.8,0)(0.81,0)(0.82,0)(0.83,0)(0.84,0)(0.85,0)(0.86,0)(0.87,0)(0.88,0)(0.89,0)(0.9,0)(1,0)}
\bp{10}{6}{Cash Flow to Equity}{}{{0.3057}{0.3129}{0.315}{0.3177}{0.3249}}{(0,0)(0.07,0)(0.13,0)(0.2,0)(0.21,0)(0.22,0)(0.23,0)(0.24,0)(0.25,0)(0.26,0)(0.27,0)(0.28,0)(0.29,0)(0.3,0)(0.33,0)(0.34,0)(0.35,0)(0.36,0)(0.37,0)(0.38,0)(0.39,0)(0.4,0)(0.41,0)(0.42,0)(0.43,0)(0.44,0)(0.45,0)(0.5,0)(0.6,0)(1,0)}
\bp{11}{6}{Current Liability to Current Assets}{}{{0}{0.018}{0.0276}{0.0384}{0.0689}}{(0.07,0)(0.08,0)(0.09,0)(0.1,0)(0.11,0)(0.12,0)(0.13,0)(0.14,0)(0.15,0)(0.16,0)(0.17,0)(0.18,0)(0.19,0)(0.2,0)(0.21,0)(0.22,0)(0.23,0)(0.24,0)(0.25,0)(0.26,0)(0.27,0)(0.28,0)(0.29,0)(0.3,0)(0.35,0)(0.4,0)(0.45,0)(0.6,0)(0.95,0)(1,0)}
% ---------------- row 7
\bp{0}{7}{Liability-Assets Flag}{}{{0}{0}{0}{0}{0}}{(1,0)}
\bp{1}{7}{Net Income to Total Assets}{}{{0.7523}{0.7968}{0.8106}{0.8265}{0.871}}{(0,0)(0.22,0)(0.41,0)(0.42,0)(0.43,0)(0.44,0)(0.45,0)(0.46,0)(0.47,0)(0.48,0)(0.49,0)(0.5,0)(0.51,0)(0.52,0)(0.53,0)(0.54,0)(0.55,0)(0.56,0)(0.57,0)(0.58,0)(0.59,0)(0.6,0)(0.61,0)(0.62,0)(0.63,0)(0.64,0)(0.65,0)(0.66,0)(0.67,0)(0.68,0)(0.69,0)(0.7,0)(0.71,0)(0.72,0)(0.73,0)(0.74,0)(0.75,0)(0.88,0)(0.89,0)(0.9,0)(0.91,0)(0.92,0)(0.93,0)(0.94,0)(0.95,0)(0.96,0)(0.97,0)(0.98,0)(0.99,0)(1,0)}
\bp{2}{7}{Total assets to GNP price}{off=1e10}{{0}{0}{0}{0}{0}}{(0,0)(0.04,0)(0.196,0)(0.28,0)(0.3,0)(0.32,0)(0.44,0)(0.49,0)(0.52,0)(0.64,0)(0.69,0)(0.74,0)(0.78,0)(0.82,0)(0.89,0)(0.91,0)(0.93,0)(0.95,0)(0.97,0)(0.982,0)}
\bp{3}{7}{No-credit Interval}{}{{0.62325}{0.62364}{0.62388}{0.62417}{0.62456}}{(0,0)(0.41,0)(0.52,0)(0.53,0)(0.54,0)(0.55,0)(0.56,0)(0.57,0)(0.58,0)(0.59,0)(0.6,0)(0.61,0)(0.64,0)(0.65,0)(0.66,0)(0.67,0)(0.68,0)(0.69,0)(0.73,0)(0.78,0)(0.83,0)(0.95,0)(0.99,0)}
\bp{4}{7}{Gross Profit to Sales}{}{{0.579}{0.600}{0.606}{0.614}{0.635}}{(0,0)(0.154,0)(0.437,0)(0.447,0)(0.49,0)(0.5,0)(0.51,0)(0.52,0)(0.53,0)(0.54,0)(0.55,0)(0.56,0)(0.57,0)(0.578,0)(0.64,0)(0.645,0)(0.65,0)(0.655,0)(0.66,0)(1,0)}
\bp{5}{7}{Net Income to Stockholder's Equity}{}{{0.8369}{0.8401}{0.8412}{0.8424}{0.8457}}{(0,0)(0.34,0)(0.44,0)(0.63,0)(0.72,0)(0.73,0)(0.74,0)(0.75,0)(0.76,0)(0.77,0)(0.78,0)(0.79,0)(0.8,0)(0.81,0)(0.82,0)(0.83,0)(0.85,0)(0.86,0)(0.89,0)(0.9,0)(0.975,0)(1,0)}
\bp{6}{7}{Liability to Equity}{}{{0.2702}{0.2769}{0.2788}{0.2815}{0.2882}}{(0,0)(0.1,0)(0.2,0)(0.21,0)(0.22,0)(0.23,0)(0.24,0)(0.25,0)(0.26,0)(0.29,0)(0.3,0)(0.31,0)(0.32,0)(0.33,0)(0.34,0)(0.35,0)(0.36,0)(0.37,0)(0.38,0)(0.39,0)(0.4,0)(0.5,0)(0.62,0)(1,0)}
\bp{7}{7}{Degree of Financial Leverage (DFL)}{}{{0.02667}{0.026791}{0.026808}{0.026913}{0.02709}}{(0,0)(0.005,0)(0.01,0)(0.015,0)(0.02,0)(0.03,0)(0.04,0)(0.05,0)(0.06,0)(0.07,0)(0.08,0)(0.09,0)(0.1,0)(0.11,0)(0.12,0)(0.13,0)(0.14,0)(0.15,0)(0.2,0)(0.25,0)(1,0)}
\bp{8}{7}{Interest Coverage Ratio (Interest expense to EBIT)}{}{{0.5645}{0.56516}{0.56525}{0.56573}{0.5666}}{(0,0)(0.15,0)(0.2,0)(0.32,0)(0.38,0)(0.45,0)(0.46,0)(0.47,0)(0.48,0)(0.49,0)(0.5,0)(0.51,0)(0.52,0)(0.53,0)(0.54,0)(0.55,0)(0.56,0)(0.57,0)(0.58,0)(0.59,0)(0.6,0)(0.61,0)(0.62,0)(0.63,0)(0.64,0)(0.7,0)(0.78,0)(1,0)}
\bp{9}{7}{Net Income Flag}{xmin=0.945, xmax=1.055, xtick={0.95,1,1.05}, xticklabels={0.95,1.00,1.05}, boxplot/every box/.append style={line width=1pt}, boxplot/every median/.append style={line width=1pt}}{{1}{1}{1}{1}{1}}{}
\bp{10}{7}{Equity to Liability}{}{{0}{0.0245}{0.0338}{0.0528}{0.0954}}{(0.1,0)(0.11,0)(0.12,0)(0.13,0)(0.14,0)(0.15,0)(0.16,0)(0.17,0)(0.18,0)(0.19,0)(0.2,0)(0.21,0)(0.22,0)(0.23,0)(0.24,0)(0.25,0)(0.26,0)(0.27,0)(0.28,0)(0.29,0)(0.3,0)(0.31,0)(0.32,0)(0.33,0)(0.34,0)(0.35,0)(0.36,0)(0.386,0)(0.4,0)(0.42,0)(0.44,0)(0.46,0)(0.48,0)(0.51,0)(0.55,0)(0.58,0)(0.68,0)(0.7,0)(0.745,0)(0.8,0)(0.88,0)(0.92,0)(0.94,0)(1,0)}
\begin{axis}[panel, at={(76.32bp+11*324.65bp,-154.8bp-7*251.2bp)}, xmin=0, xmax=1, ymin=0, ymax=1, xtick={0,0.25,0.5,0.75,1}, xticklabels={0.00,0.25,0.50,0.75,1.00}, ytick={0,0.25,0.5,0.75,1}, yticklabels={0.00,0.25,0.50,0.75,1.00}]
\end{axis}
\end{tikzpicture}
\end{document}
